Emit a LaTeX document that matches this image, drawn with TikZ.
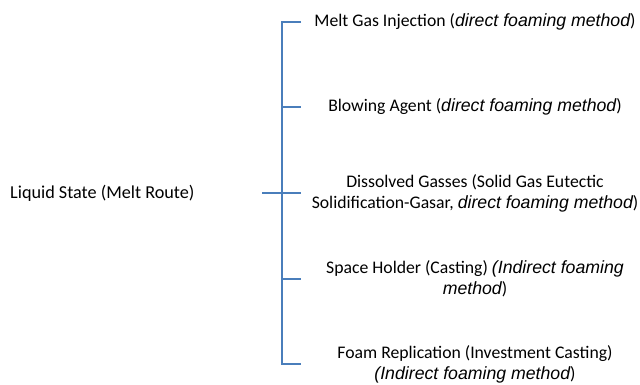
\documentclass[tikz,border=0pt]{standalone}
\usepackage{fontspec}
\setmainfont{Carlito}
\newfontfamily\arialfont{Liberation Sans}
\newcommand{\meth}[1]{{\arialfont\itshape #1}}
\definecolor{brk}{HTML}{4A7EBB}
\begin{document}
\begin{tikzpicture}[x=1pt,y=-1pt,
  lbl/.style={inner sep=0pt, align=center, font=\fontsize{17.7}{21}\selectfont},
  brkline/.style={draw=brk, line width=1.4pt}]
\useasboundingbox (0,0) rectangle (640,384);
\node[lbl, anchor=west, font=\fontsize{18.2}{21}\selectfont] (root) at (10,193) {Liquid State (Melt Route)};
\node[lbl] (a) at (475,22) {Melt Gas Injection (\meth{direct foaming method})};
\node[lbl] (b) at (475,107) {Blowing Agent (\meth{direct foaming method})};
\node[lbl] (c) at (475,193) {Dissolved Gasses (Solid Gas Eutectic\\Solidification-Gasar, \meth{direct foaming method})};
\node[lbl] (d) at (475,279) {Space Holder (Casting) \meth{(Indirect foaming}\\\meth{method})};
\node[lbl] (e) at (475,364) {Foam Replication (Investment Casting)\\\meth{(Indirect foaming method})};
\coordinate (top) at (282,22);
\coordinate (bot) at (282,364);
\coordinate (j) at (282,193);
\coordinate (in) at (262,193);
\coordinate (t1) at (301,22);
\coordinate (t2) at (301,107);
\coordinate (t3) at (301,193);
\coordinate (t4) at (301,279);
\coordinate (t5) at (301,364);
\draw[brkline] (t1) -- (top) -- (bot) -- (t5);
\draw[brkline] (282,107) -- (t2);
\draw[brkline] (282,279) -- (t4);
\draw[brkline, line width=2pt] (in) -- (j);
\draw[brkline] (j) -- (t3);
\end{tikzpicture}
\end{document}
